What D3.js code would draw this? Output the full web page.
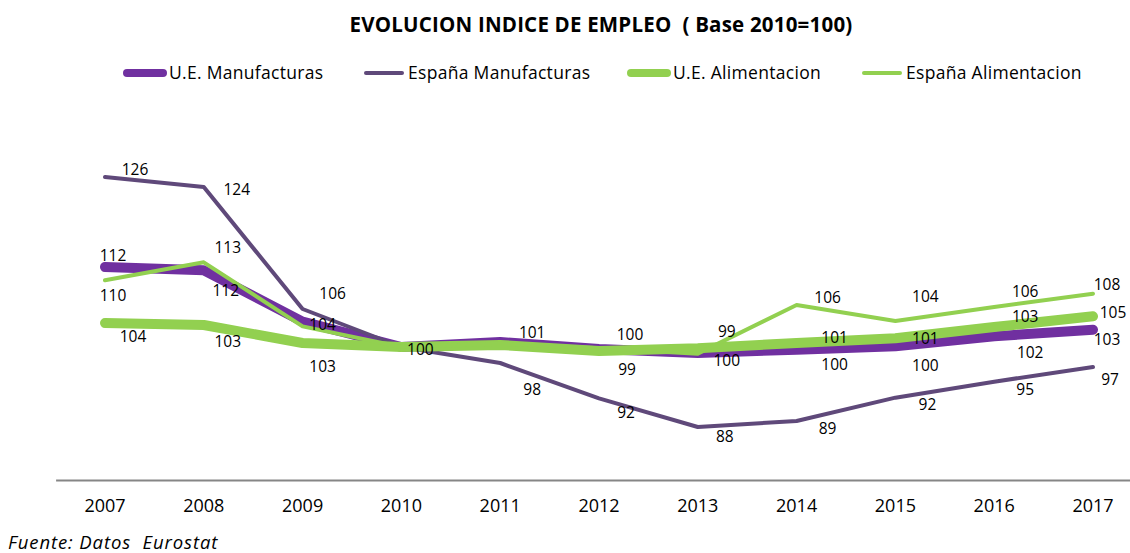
<!DOCTYPE html>
<html>
<head>
<meta charset="utf-8">
<script src="https://cdn.jsdelivr.net/npm/d3@7"></script>
<style>
  body { margin: 0; background: #fff; }
  text { font-family: 'Open Sans', sans-serif; fill: #000; white-space: pre; }
</style>
</head>
<body>
<script>
// datos (indice, base 2010 = 100)
var anios = ["2007", "2008", "2009", "2010", "2011", "2012", "2013", "2014", "2015", "2016", "2017"];

var ueManuf  = [112.0, 111.5, 103.8, 100, 100.75, 99.7, 99.1, 99.6, 100.1, 101.6, 102.6];
var espManuf = [125.5, 124.0, 105.7, 100, 97.6, 92.3, 88.0, 88.9, 92.4, 94.8, 97.0];
var ueAlim   = [103.6, 103.3, 100.6, 100, 100.3, 99.4, 99.8, 100.6, 101.3, 103.0, 104.6];
var espAlim  = [110.0, 112.7, 103.1, 100, 100.5, 99.8, 99.0, 106.3, 103.9, 106.0, 108.0];

// etiquetas visibles (null = no se muestra)
var etqUeManuf  = [112, 112, 104, 100, 101, 100, null, 100, 100, 102, 103];
var etqEspManuf = [126, 124, 106, null, 98, 92, 88, 89, 92, 95, 97];
var etqUeAlim   = [104, 103, null, null, null, 99, 100, 101, 101, 103, 105];
var etqEspAlim  = [110, 113, 103, null, null, null, 99, 106, 104, 106, 108];

var series = [
  {nombre: "U.E. Manufacturas",   valores: ueManuf,  etiquetas: etqUeManuf,  color: "#7030a0", ancho: 10},
  {nombre: "España Manufacturas", valores: espManuf, etiquetas: etqEspManuf, color: "#5f497a", ancho: 4},
  {nombre: "U.E. Alimentacion",   valores: ueAlim,   etiquetas: etqUeAlim,   color: "#92d050", ancho: 10},
  {nombre: "España Alimentacion", valores: espAlim,  etiquetas: etqEspAlim,  color: "#92d050", ancho: 4}
];

// desplazamiento de cada etiqueta respecto a su punto (como en el original)
var desp = [
  [[8,-11],[22,20],[20,3],[19,3],[32,-9],[31,-14],null,[38,15],[30,19],[36,16],[14,10]],
  [[30,-7],[33,3],[30,-15],null,[32,27],[27,14],[27,10],[31,8],[32,7],[31,8],[17,13]],
  [[28,14],[24,17],null,null,null,[28,19],[29,12],[38,-5],[30,0],[31,-10],[20,-4]],
  [[8,15],[24,-15],[20,40],null,null,null,[29,-22],[31,-7],[30,-24],[31,-15],[14,-9]]
];

var width = 1130, height = 553;

var svg = d3.select("body").append("svg")
    .attr("width", width)
    .attr("height", height);

var x = d3.scaleBand()
    .domain(anios)
    .range([55.6, 1142.4])
    .padding(0);

var y = d3.scaleLinear()
    .domain([85, 130])
    .range([447, 147]);

function px(i) { return x(anios[i]) + x.bandwidth() / 2; }

// titulo
svg.append("text")
    .attr("x", 601)
    .attr("y", 32)
    .attr("text-anchor", "middle")
    .style("font-weight", "bold")
    .style("font-size", "20.5px")
    .style("letter-spacing", "0.2px")
    .text("EVOLUCION INDICE DE EMPLEO  ( Base 2010=100)");

// leyenda
var legX = [123, 362, 627, 860];
var leyenda = svg.append("g");
series.forEach(function(s, i) {
  leyenda.append("line")
      .attr("x1", legX[i] + 4).attr("x2", legX[i] + 40)
      .attr("y1", 73).attr("y2", 73)
      .style("stroke", s.color)
      .style("stroke-width", s.ancho == 10 ? 8 : 4)
      .style("stroke-linecap", "round");
  leyenda.append("text")
      .attr("x", legX[i] + 46)
      .attr("y", 73)
      .attr("dy", "0.35em")
      .style("font-size", "17.5px")
      .style("letter-spacing", "0.3px")
      .text(s.nombre);
});

// eje x
var eje = svg.append("g")
    .attr("transform", "translate(0,480)")
    .call(d3.axisBottom(x).tickSize(0).tickSizeOuter(0).tickPadding(19));
eje.select(".domain").style("stroke", "#868686").style("stroke-width", 2);
eje.selectAll("text").style("font-size", "18px").style("font-family", "'Open Sans', sans-serif");

// lineas
var linea = d3.line()
    .x(function(d, i) { return px(i); })
    .y(function(d) { return y(d); });

series.forEach(function(s) {
  svg.append("path")
      .attr("d", linea(s.valores))
      .style("fill", "none")
      .style("stroke", s.color)
      .style("stroke-width", s.ancho)
      .style("stroke-linejoin", "round")
      .style("stroke-linecap", "round");
});

// etiquetas de datos
series.forEach(function(s, k) {
  s.valores.forEach(function(v, i) {
    if (s.etiquetas[i] == null) return;
    svg.append("text")
        .attr("x", px(i) + desp[k][i][0])
        .attr("y", y(v) + desp[k][i][1])
        .attr("text-anchor", "middle")
        .attr("dy", "0.35em")
        .style("font-size", "15.5px")
        .text(s.etiquetas[i]);
  });
});

// fuente
svg.append("text")
    .attr("x", 8)
    .attr("y", 543)
    .attr("dy", "0.35em")
    .style("font-style", "italic")
    .style("font-size", "18.5px")
    .style("letter-spacing", "0.9px")
    .text("Fuente: Datos  Eurostat");
</script>
</body>
</html>
